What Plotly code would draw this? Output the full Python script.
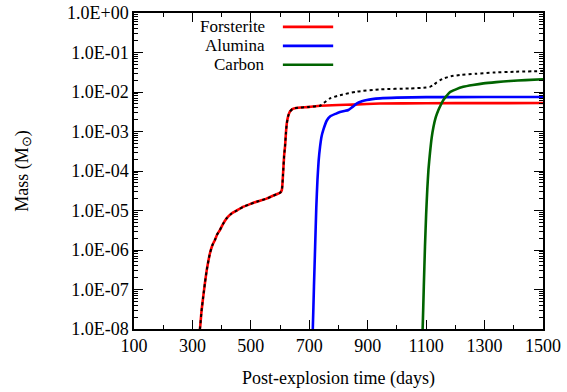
import plotly.graph_objects as go

# ---------------- data ----------------
forsterite_days = [318, 326, 331, 337, 343, 349, 355, 360, 368, 377, 385, 394, 405, 417, 434, 452, 475, 497, 525, 554, 578, 600, 606, 610, 614, 617, 620, 623, 628, 634, 642, 651, 700, 737, 800, 850, 942, 1100, 1300, 1500]
forsterite_mass = [5e-9, 1.05e-8, 2.8e-8, 6.6e-8, 1.5e-7, 3.1e-7, 5.5e-7, 8.3e-7, 1.3e-6, 1.8e-6, 2.5e-6, 3.2e-6, 4.6e-6, 6.3e-6, 8.4e-6, 1.0e-5, 1.25e-5, 1.45e-5, 1.72e-5, 2.0e-5, 2.4e-5, 2.8e-5, 3.3e-5, 8e-5, 2.5e-4, 4.2e-4, 9e-4, 1.6e-3, 2.5e-3, 3.2e-3, 3.7e-3, 3.9e-3, 4.2e-3, 4.5e-3, 4.7e-3, 4.8e-3, 5.1e-3, 5.2e-3, 5.22e-3, 5.25e-3]

alumina_days = [709, 712, 716, 720, 724, 728, 732, 737, 742, 748, 760, 771, 790, 805, 820, 834, 848, 862, 880, 897, 942, 1000, 1100, 1300, 1500]
alumina_mass = [4e-9, 1e-8, 1.2e-7, 1.2e-6, 1.2e-5, 6e-5, 1.8e-4, 4.2e-4, 7.5e-4, 1.1e-3, 1.9e-3, 2.4e-3, 2.8e-3, 3.1e-3, 3.3e-3, 3.5e-3, 4.2e-3, 5.1e-3, 5.8e-3, 6.3e-3, 6.9e-3, 7.2e-3, 7.4e-3, 7.45e-3, 7.45e-3]

carbon_days = [1085, 1088, 1092, 1096, 1100, 1104, 1108, 1113, 1119, 1125, 1133, 1142, 1150, 1159, 1170, 1182, 1200, 1227, 1260, 1296, 1340, 1387, 1440, 1500]
carbon_mass = [4e-9, 1e-8, 1.2e-7, 1.2e-6, 8e-6, 3.5e-5, 1.1e-4, 2.8e-4, 7e-4, 1.3e-3, 2.3e-3, 3.5e-3, 4.7e-3, 6.3e-3, 8e-3, 1.0e-2, 1.15e-2, 1.35e-2, 1.5e-2, 1.65e-2, 1.78e-2, 1.9e-2, 2.0e-2, 2.1e-2]

total_days = [318, 326, 331, 337, 343, 349, 355, 360, 368, 377, 385, 394, 405, 417, 434, 452, 475, 497, 525, 554, 578, 600, 606, 610, 614, 617, 620, 623, 628, 634, 642, 651, 700, 737, 750, 771, 805, 862, 942, 1045, 1100, 1113, 1125, 1136, 1148, 1159, 1185, 1216, 1270, 1330, 1400, 1500]
total_mass = [5e-9, 1.05e-8, 2.8e-8, 6.6e-8, 1.5e-7, 3.1e-7, 5.5e-7, 8.3e-7, 1.3e-6, 1.8e-6, 2.5e-6, 3.2e-6, 4.6e-6, 6.3e-6, 8.4e-6, 1.0e-5, 1.25e-5, 1.45e-5, 1.72e-5, 2.0e-5, 2.4e-5, 2.8e-5, 3.3e-5, 8e-5, 2.5e-4, 4.2e-4, 9e-4, 1.6e-3, 2.5e-3, 3.2e-3, 3.7e-3, 3.9e-3, 4.2e-3, 4.5e-3, 5.3e-3, 6.9e-3, 8.3e-3, 1.02e-2, 1.17e-2, 1.23e-2, 1.3e-2, 1.35e-2, 1.5e-2, 1.74e-2, 2.0e-2, 2.2e-2, 2.5e-2, 2.7e-2, 2.9e-2, 3.1e-2, 3.25e-2, 3.4e-2]

series_names = ["Forsterite", "Alumina", "Carbon"]
series_colors = ["#ff0000", "#0000ff", "#006400"]

x_tickvals = [100, 300, 500, 700, 900, 1100, 1300, 1500]
y_tickvals = [1e-8, 1e-7, 1e-6, 1e-5, 1e-4, 1e-3, 1e-2, 1e-1, 1e0]
y_ticktext = ["1.0E-08", "1.0E-07", "1.0E-06", "1.0E-05", "1.0E-04", "1.0E-03", "1.0E-02", "1.0E-01", "1.0E+00"]

FONT = "Liberation Serif"

fig = go.Figure()
for name, days, mass, color in zip(series_names,
                                   [forsterite_days, alumina_days, carbon_days],
                                   [forsterite_mass, alumina_mass, carbon_mass],
                                   series_colors):
    fig.add_trace(go.Scatter(x=days, y=mass, mode="lines", name=name,
                             line=dict(color=color, width=2.6, shape="spline", smoothing=0.5),
                             showlegend=False))

fig.add_trace(go.Scatter(x=total_days, y=total_mass, mode="lines", name="Total",
                         line=dict(color="black", width=2, dash="dot", shape="spline", smoothing=0.5),
                         showlegend=False))

# legend drawn as text on the left of line samples (as in the reference)
legend_y = [0.956, 0.896, 0.836]
for name, color, ly in zip(series_names, series_colors, legend_y):
    fig.add_annotation(xref="paper", yref="paper", x=0.323, y=ly, text=name,
                       showarrow=False, xanchor="right", yanchor="middle",
                       borderpad=0, font=dict(family=FONT, size=17, color="black"))
    fig.add_shape(type="line", xref="paper", yref="paper", x0=0.364, x1=0.487,
                  y0=ly, y1=ly, line=dict(color=color, width=2.6))

axis_common = dict(showline=True, linecolor="black", linewidth=1.5, mirror="allticks",
                   ticks="inside", tickcolor="black", tickwidth=1, ticklen=9,
                   showgrid=False, zeroline=False, automargin=False,
                   tickfont=dict(family=FONT, size=18, color="black"))

fig.update_xaxes(range=[100, 1500], tickvals=x_tickvals,
                 minor=dict(ticks="inside", dtick=100, tick0=0, ticklen=4, tickcolor="black", tickwidth=1),
                 title=dict(text="Post-explosion time (days)", font=dict(family=FONT, size=18, color="black"), standoff=16),
                 **axis_common)
fig.update_yaxes(type="log", range=[-8, 0], tickvals=y_tickvals, ticktext=y_ticktext,
                 minor=dict(ticks="inside", dtick="D1", ticklen=4, tickcolor="black", tickwidth=1),
                 title=dict(text="Mass (M<sub>⊙</sub>)", font=dict(family=FONT, size=18, color="black"), standoff=34),
                 **axis_common)

fig.update_layout(width=567, height=392, margin=dict(l=134, r=24, t=13, b=63),
                  paper_bgcolor="white", plot_bgcolor="white",
                  font=dict(family=FONT, size=18, color="black"))

fig.write_html("out.html", config={"displayModeBar": False},
               post_script="document.body.style.margin='0';")
